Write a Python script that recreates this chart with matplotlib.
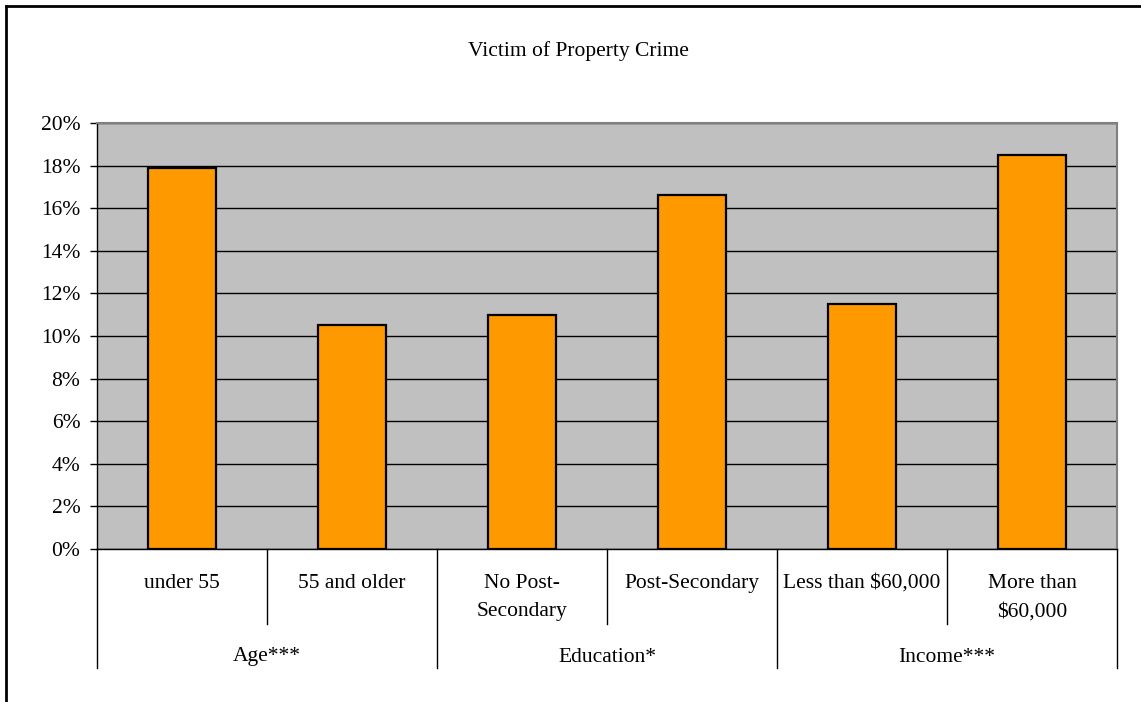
import matplotlib
matplotlib.use('Agg')
import matplotlib.pyplot as plt
from matplotlib.lines import Line2D
from matplotlib.ticker import FuncFormatter
import numpy as np

# data
categories = ['under 55', '55 and older', 'No Post-\nSecondary', 'Post-Secondary',
              'Less than $60,000', 'More than\n$60,000']
groups = ['Age***', 'Education*', 'Income***']
values = [17.9, 10.5, 11.0, 16.6, 11.5, 18.5]
yticks = [0, 2, 4, 6, 8, 10, 12, 14, 16, 18, 20]

plt.rcParams['font.family'] = ['Liberation Serif', 'DejaVu Serif']
FS = 15.5

fig = plt.figure(figsize=(11.41, 7.02), dpi=100)
ax = fig.add_axes([97 / 1141, 153 / 702, 1020 / 1141, 426 / 702])

x = np.arange(len(categories))
ax.set_facecolor('#C0C0C0')
ax.set_axisbelow(True)
ax.yaxis.grid(True, color='black', linewidth=1)
ax.bar(x, values, width=0.4, color='#FF9900', edgecolor='black', linewidth=1.6, zorder=3)

ax.set_xlim(-0.5, len(categories) - 0.5)
ax.set_ylim(0, 20)
ax.set_yticks(yticks)
ax.yaxis.set_major_formatter(FuncFormatter(lambda v, p: '%d%%' % v))
ax.tick_params(axis='y', labelsize=FS, length=5, width=1, pad=7)
ax.set_xticks([])

for s in ['top', 'right']:
    ax.spines[s].set_color('#808080')
    ax.spines[s].set_linewidth(1.5)
for s in ['left', 'bottom']:
    ax.spines[s].set_color('black')
    ax.spines[s].set_linewidth(1)

# multi-level category axis below the plot
tr = ax.get_xaxis_transform()
h = 426.0
for i, lab in enumerate(categories):
    ax.text(i, -25 / h, lab, transform=tr, ha='center', va='top',
            fontsize=FS, linespacing=1.65)
for g, lab in enumerate(groups):
    ax.text(2 * g + 0.5, -108 / h, lab, transform=tr, ha='center', va='center',
            fontsize=FS)
for k in range(len(categories) + 1):
    xb = k - 0.5
    bottom = -119 / h if k % 2 == 0 else -75 / h
    ax.add_line(Line2D([xb, xb], [0, bottom], transform=tr, color='black',
                       linewidth=1, clip_on=False))

fig.text(578 / 1141, 1 - 51 / 702, 'Victim of Property Crime', ha='center',
         va='center', fontsize=FS)

# outer chart frame (top and left edges visible)
fig.add_artist(Line2D([5.5 / 1141, 1], [1 - 6 / 702, 1 - 6 / 702],
                      transform=fig.transFigure, color='black', linewidth=2))
fig.add_artist(Line2D([5.5 / 1141, 5.5 / 1141], [0, 1 - 6 / 702],
                      transform=fig.transFigure, color='black', linewidth=2))

fig.savefig('out.png', dpi=100, facecolor='white')
